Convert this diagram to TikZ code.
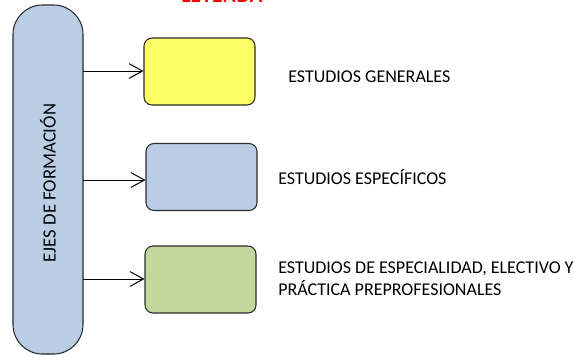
\documentclass[tikz,border=0pt]{standalone}
\usepackage{fontspec}
\setmainfont{Carlito}
\usetikzlibrary{arrows.meta}
\definecolor{axisblue}{HTML}{B9CDE5}
\definecolor{boxyellow}{HTML}{FFFF66}
\definecolor{boxgreen}{HTML}{C3D69B}
\definecolor{edgegray}{HTML}{2B2B2B}
\tikzset{
  legbox/.style={draw=edgegray, line width=0.8pt, rounded corners=6pt, minimum width=83.25pt, minimum height=50.25pt, inner sep=0pt},
  lbl/.style={anchor=west, font=\fontsize{13.5}{16.5}\selectfont, align=left, inner sep=0pt},
  conn/.style={draw=black, line width=0.75pt, -{Straight Barb[length=10pt,width=11pt,line width=0.75pt]}}
}
\begin{document}
\begin{tikzpicture}[x=0.75pt,y=-0.75pt]
\useasboundingbox (0,0) rectangle (574,355);
\node[anchor=base, text=red, font=\bfseries\fontsize{16}{19}\selectfont, inner sep=0pt] (title) at (222,2.5) {LEYENDA};
\draw[fill=axisblue, draw=edgegray, line width=0.8pt, rounded corners=22pt] (13,5) rectangle (83,354);
\node[rotate=90, font=\fontsize{14}{17}\selectfont] (axis) at (48,183) {EJES DE FORMACIÓN};
\coordinate (a1) at (83,71);
\coordinate (a2) at (83,180);
\coordinate (a3) at (83,279);
\node[legbox, fill=boxyellow] (b1) at (199.5,71.5) {};
\node[legbox, fill=axisblue] (b2) at (201.5,177) {};
\node[legbox, fill=boxgreen] (b3) at (200.5,279.5) {};
\draw[conn] (a1) -- (b1.west |- a1);
\draw[conn] (a2) -- (b2.west |- a2);
\draw[conn] (a3) -- (b3.west |- a3);
\node[lbl] (t1) at (288,77) {ESTUDIOS GENERALES};
\node[lbl] (t2) at (278,177) {ESTUDIOS ESPECÍFICOS};
\node[lbl] (t3) at (278,279) {ESTUDIOS DE ESPECIALIDAD, ELECTIVO Y\\PRÁCTICA PREPROFESIONALES};
\end{tikzpicture}
\end{document}
